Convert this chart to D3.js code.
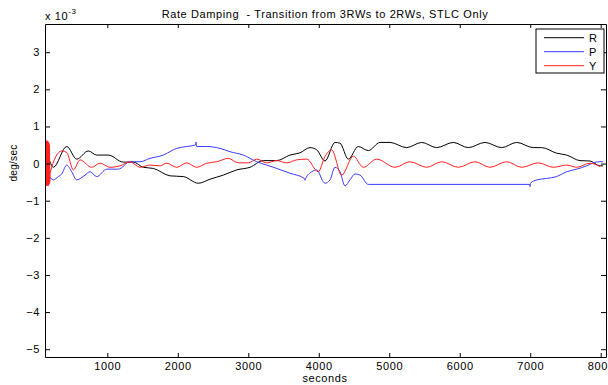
<!DOCTYPE html>
<html>
<head>
<meta charset="utf-8">
<script src="https://cdn.jsdelivr.net/npm/d3@7"></script>
<style>
  body { margin: 0; background: #fff; }
  svg { font-family: "Liberation Sans", Arial, sans-serif; }
  svg text { letter-spacing: 0.6px; }
</style>
</head>
<body>
<svg width="608" height="385"></svg>
<script>
// values in units of 1e-3 deg/sec, time in seconds
const rollData = [
  [116,0.19],[140,0.19],[234,-0.10],[424,0.46],[566,0.12],[731,0.34],[850,0.23],[1014,0.23],
  [1227,0.04],[1369,0.04],[1511,-0.10],[1653,-0.13],[1890,-0.33],[2078,-0.35],[2291,-0.53],
  [2457,-0.42],[2646,-0.31],[2836,-0.17],[3024,-0.10],[3213,0.08],[3403,0.08],[3592,0.23],
  [3734,0.29],[3876,0.43],[3971,0.37],[4088,0.07],[4230,0.57],[4301,0.55],[4419,0.12],
  [4561,0.46],[4703,0.35],[4869,0.57],[5011,0.57],[5247,0.43],[5460,0.57],[5673,0.43],
  [5908,0.57],[6121,0.43],[6358,0.57],[6595,0.43],[6808,0.57],[7043,0.43],[7162,0.43],
  [7375,0.28],[7517,0.23],[7706,0.08],[7848,0.07],[7989,-0.06],[8032,-0.06]
]
const pitchData = [
  [116,0.6],[122,-0.5],[128,0.58],[134,-0.5],[140,0.6],[146,-0.5],[152,0.55],[158,-0.45],
  [163,-0.35],[234,-0.44],[305,-0.35],[353,-0.28],[424,-0.04],[495,-0.22],[566,-0.44],
  [684,-0.31],[755,-0.22],[850,-0.35],[992,-0.15],[1156,-0.15],[1322,0.05],[1464,0.05],
  [1606,0.14],[1795,0.23],[1985,0.41],[2126,0.46],[2250,0.50],[2258,0.58],[2268,0.46],
  [2410,0.46],[2599,0.41],[2741,0.32],[2929,0.23],[3120,0.05],[3261,-0.04],[3403,-0.13],
  [3592,-0.26],[3795,-0.40],[3805,-0.45],[3815,-0.40],[3900,-0.22],[3971,-0.17],[4064,-0.49],
  [4088,-0.53],[4159,-0.44],[4230,-0.10],[4301,-0.22],[4372,-0.60],[4443,-0.44],[4514,-0.28],
  [4585,-0.31],[4703,-0.56],[4869,-0.56],[6990,-0.56],[6997,-0.62],[7004,-0.53],[7092,-0.44],
  [7233,-0.40],[7375,-0.35],[7517,-0.22],[7659,-0.15],[7801,-0.06],[7895,0.02],[7989,0.05],[8032,0.05]
]
const yawData = [
  [116,0.6],[120,-0.58],[124,0.62],[128,-0.6],[132,0.6],[136,-0.58],[140,0.62],[144,-0.6],
  [148,0.6],[152,-0.58],[156,0.6],[160,-0.6],[164,0.58],[168,-0.58],[172,0.55],[176,-0.55],
  [180,0.5],[184,-0.5],[187,-0.26],[353,0.34],[424,0.30],[518,-0.17],[613,0.10],[779,-0.10],
  [897,0.01],[1038,-0.10],[1180,-0.06],[1322,0.05],[1464,-0.10],[1606,-0.04],[1748,-0.06],
  [1843,0.01],[1985,-0.10],[2126,0.02],[2268,-0.10],[2410,0.01],[2552,0.05],[2717,0.14],
  [2858,0.02],[3000,0.02],[3120,0.12],[3261,0.02],[3403,0.08],[3545,0.02],[3687,0.10],
  [3829,0.12],[3993,-0.22],[4088,0.19],[4183,0.37],[4325,-0.31],[4490,0.20],[4632,-0.10],
  [4822,0.12],[5082,-0.10],[5294,0.05],[5531,-0.10],[5744,0.05],[5980,-0.10],[6216,0.05],
  [6429,-0.10],[6666,0.05],[6879,-0.10],[7114,0.02],[7327,-0.10],[7517,-0.04],[7659,-0.10],
  [7848,0.01],[7989,-0.08]
]
const xTicks = [1000,2000,3000,4000,5000,6000,7000,8000]
const yTicks = [-5,-4,-3,-2,-1,0,1,2,3]
const seriesNames = ['R','P','Y']
const seriesColors = ['#000000','#3b3bff','#ff2020']

let svg = d3.select("svg")
let plotLeft = 45, plotRight = 606, plotTop = 24, plotBottom = 357

let x = d3.scaleLinear().domain([116, 8075]).range([plotLeft, plotRight])
let y = d3.scaleLinear().domain([-5.21, 3.76]).range([plotBottom, plotTop])

svg.append("defs").append("clipPath").attr("id", "plot")
  .append("rect").attr("x", plotLeft).attr("y", plotTop)
  .attr("width", plotRight - plotLeft).attr("height", plotBottom - plotTop)

let line = d3.line()
  .x(d => x(d[0]))
  .y(d => y(d[1]))
  .curve(d3.curveMonotoneX)

let lines = svg.append("g").attr("clip-path", "url(#plot)")
;[rollData, pitchData, yawData].forEach((data, i) => {
  lines.append("path")
    .datum(data)
    .attr("fill", "none")
    .attr("stroke", seriesColors[i])
    .attr("stroke-width", 1)
    .attr("d", line)
})

// axes, MATLAB style: ticks pointing inwards on all four sides
let fontSize = "11px"
let xAxis = svg.append("g").attr("transform", `translate(0,${plotBottom})`)
  .call(d3.axisBottom(x).tickValues(xTicks).tickFormat(d3.format("d"))
    .tickSizeInner(-4).tickSizeOuter(0).tickPadding(5))
let xTop = svg.append("g").attr("transform", `translate(0,${plotTop})`)
  .call(d3.axisTop(x).tickValues(xTicks).tickSizeInner(-4).tickSizeOuter(0).tickFormat(""))
let yAxis = svg.append("g").attr("transform", `translate(${plotLeft},0)`)
  .call(d3.axisLeft(y).tickValues(yTicks).tickSizeInner(-5).tickSizeOuter(0).tickPadding(5))
let yRight = svg.append("g").attr("transform", `translate(${plotRight},0)`)
  .call(d3.axisRight(y).tickValues(yTicks).tickSizeInner(-5).tickSizeOuter(0).tickFormat(""))

;[xAxis, xTop, yAxis, yRight].forEach(g => {
  g.select(".domain").attr("stroke", "#000").attr("stroke-width", 1)
  g.selectAll("text").attr("font-size", fontSize).attr("font-family", "Liberation Sans, Arial, sans-serif").attr("fill", "#000")
})

// title and labels
svg.append("text")
  .attr("x", 325).attr("y", 17.5)
  .attr("text-anchor", "middle").attr("font-size", fontSize)
  .style("white-space", "pre")
  .text("Rate Damping  - Transition from 3RWs to 2RWs, STLC Only")

let exp = svg.append("text").attr("x", 45).attr("y", 19.5).attr("font-size", fontSize)
exp.append("tspan").text("x 10")
exp.append("tspan").attr("dy", -6).attr("font-size", "8px").text("-3")

svg.append("text")
  .attr("x", 325).attr("y", 382)
  .attr("text-anchor", "middle").attr("font-size", fontSize)
  .text("seconds")

svg.append("text")
  .attr("transform", "translate(17,163) rotate(-90)")
  .attr("text-anchor", "middle").attr("font-size", "10px")
  .style("letter-spacing", "0.3px")
  .text("deg/sec")

// legend
let legend = svg.append("g")
legend.append("rect")
  .attr("x", 536).attr("y", 29).attr("width", 68).attr("height", 44)
  .attr("fill", "#fff").attr("stroke", "#000").attr("stroke-width", 1)
seriesNames.forEach((name, i) => {
  let ly = 37.7 + i * 14
  legend.append("line")
    .attr("x1", 544).attr("x2", 584).attr("y1", ly).attr("y2", ly)
    .attr("stroke", seriesColors[i]).attr("stroke-width", 1)
  legend.append("text")
    .attr("x", 589).attr("y", ly + 4).attr("font-size", fontSize)
    .text(name)
})
</script>
</body>
</html>
